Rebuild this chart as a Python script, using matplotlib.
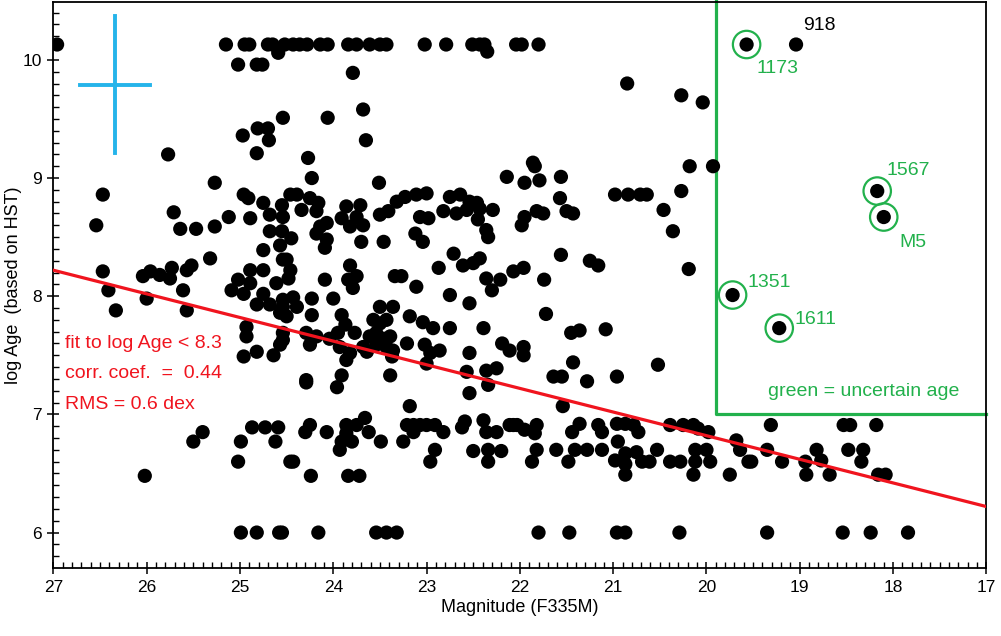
import matplotlib.pyplot as plt

plt.rcParams['font.family'] = ['Liberation Sans', 'DejaVu Sans']

# cluster magnitudes (F335M) and log ages
mag = [
    # top row (log age ~10.13)
    26.96, 25.15, 24.95, 24.90, 24.70, 24.65, 24.52, 24.43, 24.36, 24.28, 24.14, 24.06, 23.84,
    23.75, 23.61, 23.50, 23.43, 23.02, 22.79, 22.51, 22.43, 22.38, 22.04, 21.98, 21.80,
    24.59, 22.35, 25.02, 24.82, 24.76,
    # upper left block
    23.79, 24.54, 24.06, 23.68, 23.65, 24.27, 24.23, 23.51,
    24.81, 24.70, 24.97, 24.69, 24.82, 25.77, 25.27, 26.47, 24.96, 24.46,
    20.85, 20.27, 20.04, 21.86, 21.84, 22.14, 21.95, 21.79, 21.56, 20.18, 19.93, 21.57,
    20.98, 20.84, 20.71, 20.64, 20.27,
    # left middle
    26.54, 25.71, 25.64, 25.47, 25.27, 25.12,
    24.91, 24.75, 24.55, 24.89, 24.68, 24.54, 24.68, 24.55, 24.75, 24.57, 24.54, 24.75, 24.89,
    25.02, 24.89, 25.09, 24.96, 24.75, 24.61, 24.54, 24.82, 24.68, 24.57, 24.93, 24.93, 24.54,
    24.57, 24.82, 24.96, 24.64,
    25.32, 26.47, 26.41, 26.33, 26.04, 25.96, 25.86, 25.73, 25.75, 26.00, 25.57, 25.52, 25.61, 25.57,
    # centre
    24.39, 24.25, 24.16, 24.34, 24.18, 23.86, 23.71, 23.91, 23.75, 23.68, 23.82, 24.14, 24.07,
    24.18, 24.07, 24.09, 24.45, 23.50, 23.41, 23.32, 23.23, 23.11, 23.00, 23.07, 22.98, 23.12,
    23.04, 23.46, 23.70, 22.75, 22.64, 22.54, 22.46, 22.43, 22.29, 22.82, 22.68, 22.57, 22.45,
    22.36, 22.34, 22.71, 22.61, 22.50, 22.43, 22.87, 22.36, 22.21, 22.30, 22.07, 24.50, 24.46,
    24.48, 23.82, 23.75, 23.84, 23.79, 24.09, 23.34, 23.27, 23.11, 22.75, 22.54, 24.43, 24.23,
    24.00, 24.54, 24.39, 24.23, 24.50, 23.50, 23.36, 23.18, 23.04, 22.93, 22.75, 22.39, 23.91,
    23.87, 23.57, 23.50, 23.43, 23.54, 23.61, 23.46, 23.39, 23.77, 23.95, 24.29, 24.18, 24.04,
    24.25, 23.93, 23.82, 23.86, 23.68, 23.64, 23.54, 23.43, 23.36, 23.37, 23.21, 23.02, 22.96,
    22.86, 23.00, 22.54, 22.19, 22.11, 22.57, 22.36, 22.25, 23.39, 24.29, 23.91, 23.96, 24.54,
    # right of centre
    21.50, 21.43, 21.95, 21.82, 21.75, 21.98, 20.46, 20.36, 21.56, 21.25, 21.16, 21.96, 21.74,
    20.19, 21.72, 21.45, 21.36, 21.08, 21.96, 21.96, 21.43, 21.64, 21.55, 21.28, 20.96, 20.52,
    # lower left
    26.02, 25.50, 25.40, 25.02, 24.99, 24.87, 24.73, 24.59, 24.62, 24.46, 24.99, 24.82, 24.58,
    # lower centre
    24.29, 22.54, 22.34, 23.18, 24.30, 24.25, 24.07, 23.86, 23.75, 23.66, 23.62, 23.86, 23.91,
    23.80, 23.93, 23.49, 24.43, 24.24, 23.84, 23.72, 23.25, 23.21, 23.14, 23.07, 23.00, 22.91,
    22.82, 23.14, 22.91, 22.96, 22.59, 22.62, 22.39, 22.36, 22.25, 22.11, 22.07, 22.50, 22.34,
    22.20, 22.34, 24.55, 24.16, 23.54, 23.43, 23.32,
    # lower right
    21.54, 22.03, 21.95, 21.82, 21.84, 21.44, 21.36, 21.16, 21.12, 20.96, 20.87, 20.78, 20.73,
    20.95, 20.39, 20.25, 20.14, 20.09, 19.98, 21.82, 21.87, 21.61, 21.48, 21.41, 21.28, 21.12,
    20.98, 20.87, 20.87, 20.75, 20.69, 20.61, 20.53, 20.39, 20.28, 20.12, 20.00, 19.96, 20.12,
    20.87, 20.14, 19.75, 19.68, 19.64, 19.55, 21.80, 21.47, 20.96, 20.87, 20.29,
    19.31, 19.52, 19.35, 19.19, 18.94, 18.93, 18.82, 18.77, 18.68, 18.53, 18.46, 18.48, 18.32,
    18.34, 18.18, 18.16, 18.08, 19.35, 18.54, 18.24, 17.84,
]
log_age = [
    10.13, 10.13, 10.13, 10.13, 10.13, 10.13, 10.13, 10.13, 10.13, 10.13, 10.13, 10.13, 10.13,
    10.13, 10.13, 10.13, 10.13, 10.13, 10.13, 10.13, 10.13, 10.13, 10.13, 10.13, 10.13,
    10.06, 10.07, 9.96, 9.96, 9.96,
    9.89, 9.51, 9.51, 9.58, 9.32, 9.17, 9.00, 8.96,
    9.42, 9.42, 9.36, 9.32, 9.21, 9.20, 8.96, 8.86, 8.86, 8.86,
    9.80, 9.70, 9.64, 9.13, 9.10, 9.01, 8.96, 8.98, 9.01, 9.10, 9.10, 8.83,
    8.86, 8.86, 8.86, 8.86, 8.89,
    8.60, 8.71, 8.57, 8.57, 8.59, 8.67,
    8.83, 8.79, 8.77, 8.66, 8.69, 8.67, 8.55, 8.55, 8.39, 8.43, 8.31, 8.22, 8.22,
    8.14, 8.11, 8.05, 8.02, 8.02, 8.11, 7.97, 7.93, 7.93, 7.86, 7.74, 7.66, 7.69,
    7.59, 7.53, 7.49, 7.50,
    8.32, 8.21, 8.05, 7.88, 8.17, 8.21, 8.18, 8.24, 8.15, 7.98, 8.22, 8.26, 8.05, 7.88,
    8.86, 8.83, 8.79, 8.73, 8.72, 8.76, 8.77, 8.66, 8.67, 8.60, 8.59, 8.59, 8.62,
    8.53, 8.48, 8.41, 8.49, 8.69, 8.72, 8.80, 8.84, 8.86, 8.87, 8.67, 8.66, 8.53,
    8.46, 8.46, 8.46, 8.84, 8.86, 8.80, 8.79, 8.74, 8.73, 8.72, 8.70, 8.73, 8.65,
    8.56, 8.50, 8.36, 8.26, 8.28, 8.32, 8.24, 8.15, 8.14, 8.05, 8.21, 8.31, 8.22,
    8.15, 8.26, 8.17, 8.14, 8.07, 8.14, 8.17, 8.17, 8.08, 8.01, 7.94, 7.99, 7.98,
    7.98, 7.91, 7.91, 7.84, 7.83, 7.91, 7.91, 7.83, 7.78, 7.73, 7.73, 7.73, 7.84,
    7.76, 7.80, 7.77, 7.80, 7.69, 7.66, 7.64, 7.66, 7.69, 7.69, 7.69, 7.66, 7.64,
    7.59, 7.57, 7.52, 7.46, 7.57, 7.53, 7.59, 7.57, 7.54, 7.49, 7.60, 7.59, 7.52,
    7.54, 7.43, 7.52, 7.60, 7.54, 7.36, 7.37, 7.39, 7.33, 7.29, 7.33, 7.23, 7.63,
    8.72, 8.70, 8.67, 8.72, 8.70, 8.60, 8.73, 8.55, 8.35, 8.30, 8.26, 8.24, 8.14,
    8.23, 7.85, 7.69, 7.71, 7.72, 7.57, 7.50, 7.44, 7.32, 7.32, 7.28, 7.32, 7.42,
    6.48, 6.77, 6.85, 6.60, 6.77, 6.89, 6.89, 6.89, 6.77, 6.60, 6.00, 6.00, 6.00,
    7.27, 7.18, 7.25, 7.07, 6.85, 6.91, 6.85, 6.91, 6.91, 6.97, 6.85, 6.84, 6.77,
    6.77, 6.70, 6.77, 6.60, 6.48, 6.48, 6.48, 6.77, 6.91, 6.91, 6.91, 6.91, 6.91,
    6.85, 6.85, 6.70, 6.60, 6.94, 6.89, 6.95, 6.85, 6.85, 6.91, 6.91, 6.69, 6.70,
    6.69, 6.60, 6.00, 6.00, 6.00, 6.00, 6.00,
    7.07, 6.91, 6.87, 6.91, 6.84, 6.85, 6.92, 6.91, 6.85, 6.92, 6.92, 6.91, 6.85,
    6.77, 6.91, 6.91, 6.91, 6.88, 6.85, 6.70, 6.60, 6.70, 6.60, 6.70, 6.70, 6.70,
    6.61, 6.67, 6.58, 6.68, 6.60, 6.60, 6.70, 6.60, 6.60, 6.70, 6.70, 6.60, 6.60,
    6.49, 6.49, 6.49, 6.78, 6.70, 6.60, 6.00, 6.00, 6.00, 6.00, 6.00,
    6.91, 6.60, 6.70, 6.60, 6.60, 6.49, 6.70, 6.61, 6.49, 6.91, 6.91, 6.70, 6.70,
    6.60, 6.91, 6.49, 6.49, 6.00, 6.00, 6.00, 6.00,
]

# labelled clusters
lab_names = ['918', '1173', '1567', 'M5', '1351', '1611']
lab_mag = [19.04, 19.57, 18.17, 18.10, 19.72, 19.22]
lab_age = [10.13, 10.13, 8.89, 8.67, 8.01, 7.73]
lab_uncertain = [False, True, True, True, True, True]
lab_offsets = [(5, 14), (7, -17), (7, 15), (11, -18), (11, 9), (11, 6)]

# linear fit for log Age < 8.3 (value at mag 27 and at mag 17)
fit_mag = [27, 17]
fit_age = [8.22, 6.22]

# typical error bars
err_mag, err_age = 26.34, 9.79
err_dmag, err_dage = 0.375, 0.58

# uncertain-age box
box_mag_left, box_age_bottom = 19.9, 7.0

green = '#22b14c'
red = '#f0141e'
fs = 14

fig = plt.figure(figsize=(10.01, 6.36), dpi=100)
ax = fig.add_axes([0.0533, 0.1069, 0.9321, 0.8900])

ax.scatter(mag, log_age, s=105, color='black', edgecolors='none', zorder=3)
ax.scatter(lab_mag, lab_age, s=105, color='black', edgecolors='none', zorder=3)
for name, x, y, unc, off in zip(lab_names, lab_mag, lab_age, lab_uncertain, lab_offsets):
    c = green if unc else 'black'
    if unc:
        ax.scatter([x], [y], s=390, facecolors='none', edgecolors=green, linewidths=1.6, zorder=4)
    ax.annotate(name, xy=(x, y), xytext=off, textcoords='offset points',
                ha='left', va='center', color=c, fontsize=fs)

ax.plot(fit_mag, fit_age, color=red, lw=2.3, zorder=5)

ax.plot([err_mag, err_mag], [err_age - err_dage, err_age + err_dage], color='#25b4ea', lw=2.8)
ax.plot([err_mag + err_dmag, err_mag - err_dmag], [err_age, err_age], color='#25b4ea', lw=2.8)

ax.plot([box_mag_left, box_mag_left, 17], [10.6, box_age_bottom, box_age_bottom],
        color=green, lw=2.3, zorder=2, clip_on=False)
ax.text(0.7655, 0.311, 'green = uncertain age', transform=ax.transAxes, color=green,
        fontsize=fs, ha='left', va='center')

ax.text(0.0124, 0.3975, 'fit to log Age < 8.3', transform=ax.transAxes, color=red,
        fontsize=fs, va='center')
ax.text(0.0124, 0.3445, 'corr. coef.  =  0.44', transform=ax.transAxes, color=red,
        fontsize=fs, va='center')
ax.text(0.0124, 0.288, 'RMS = 0.6 dex', transform=ax.transAxes, color=red,
        fontsize=fs, va='center')

ax.set_xlim(27, 17)
ax.set_ylim(5.70, 10.49)
ax.set_xticks(range(27, 16, -1))
ax.set_yticks([6, 7, 8, 9, 10])
ax.set_xticks([x / 10 for x in range(170, 271)], minor=True)
ax.set_yticks([y / 10 for y in range(58, 105)], minor=True)
ax.tick_params(which='major', direction='inout', length=9, width=1.1, labelsize=12.5, pad=4)
ax.tick_params(which='minor', direction='in', length=4, width=1.0)
for s in ax.spines.values():
    s.set_linewidth(1.3)

ax.set_xlabel('Magnitude (F335M)', fontsize=13, labelpad=3)
ax.set_ylabel('log Age  (based on HST)', fontsize=13)
ax.yaxis.set_label_coords(-0.034, 0.5)

fig.savefig('out.png', dpi=100)
